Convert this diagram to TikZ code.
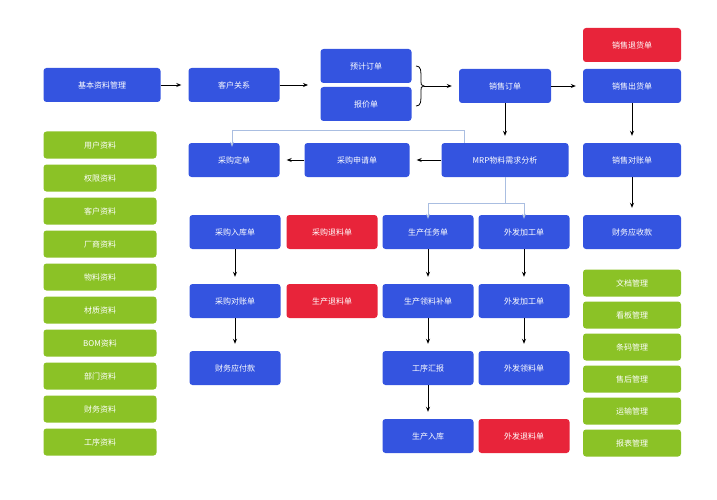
\documentclass[tikz,border=0pt]{standalone}
\usepackage{fontspec}
\setmainfont{Noto Sans CJK SC}
\usetikzlibrary{arrows.meta,positioning,decorations.pathreplacing}
\definecolor{boxblue}{RGB}{52,84,224}
\definecolor{boxred}{RGB}{232,36,58}
\definecolor{boxgreen}{RGB}{139,194,38}
\definecolor{lineblue}{RGB}{170,190,225}
\tikzset{
  box/.style={rectangle, rounded corners=3pt, fill=boxblue, text=white, minimum height=34pt, font=\fontsize{8}{9}\selectfont, inner sep=1pt},
  rbox/.style={box, fill=boxred},
  gbox/.style={box, fill=boxgreen, minimum height=27pt},
  flow/.style={-{Stealth[length=5pt,width=4pt]}, thick, black, shorten >=7pt},
  mrp/.style={-{Stealth[length=5pt,width=4pt]}, lineblue, thick}
}
\begin{document}
\begin{tikzpicture}[x=1pt,y=-1pt]
\useasboundingbox (0,0) rectangle (717,500);

% top row
\node[box, minimum width=117pt] (base) at (102,85) {基本资料管理};
\node[box, minimum width=91pt] (kehu) at (234,85) {客户关系};
\node[box, minimum width=91pt] (yuji) at (366,66) {预计订单};
\node[box, minimum width=91pt] (baojia) at (366,104) {报价单};
\node[box, minimum width=92pt] (xiaoshou) at (505,86) {销售订单};
\node[rbox, minimum width=98pt] (tuihuo) at (632,45) {销售退货单};
\node[box, minimum width=98pt] (chuhuo) at (632,86) {销售出货单};
\node[box, minimum width=98pt] (duizhang) at (632,160) {销售对账单};
\node[box, minimum width=98pt] (yingshou) at (632,232) {财务应收款};

% second row
\node[box, minimum width=127pt] (mrp) at (505,160) {MRP物料需求分析};
\node[box, minimum width=105pt] (shenqing) at (357,160) {采购申请单};
\node[box, minimum width=91pt] (dingdan) at (234,160) {采购定单};

% lower block
\foreach \name/\txt/\x/\y/\s in {
  ruku/采购入库单/235/232/box, tuiliao/采购退料单/332/232/rbox,
  renwu/生产任务单/428/232/box, waifa/外发加工单/524/232/box,
  cgdz/采购对账单/235/301/box, sctl/生产退料单/332/301/rbox,
  lingliao/生产领料补单/428/301/box, waifab/外发加工单/524/301/box,
  yingfu/财务应付款/235/368/box, gongxu/工序汇报/428/368/box,
  wfll/外发领料单/524/368/box,
  scrk/生产入库/428/436/box, wftl/外发退料单/524/436/rbox}
  \node[\s, minimum width=91pt] (\name) at (\x,\y) {\txt};

% side lists
\foreach \txt [count=\i] in {用户资料,权限资料,客户资料,厂商资料,物料资料,材质资料,BOM资料,部门资料,财务资料,工序资料}
  \node[gbox, minimum width=113pt] (l\i) at (100,112+33*\i) {\txt};
\foreach \txt [count=\i] in {文档管理,看板管理,条码管理,售后管理,运输管理,报表管理}
  \node[gbox, minimum width=98pt] (r\i) at (632,251+32*\i) {\txt};

% brace
\draw[thick] (416,66) .. controls (421,66) and (421,70) .. (421,80) -- (421,82)
  .. controls (421,85) .. (424,86) .. controls (421,87) .. (421,90) -- (421,92)
  .. controls (421,102) and (421,106) .. (416,106);
\coordinate (brace) at (424,86);
\coordinate (kend) at (315,85);

\draw[flow] (base) -- (kehu);
\draw[flow] (kehu) -- (kend);
\draw[flow] (brace) -- (xiaoshou);
\draw[flow] (xiaoshou) -- (chuhuo);
\draw[flow] (chuhuo) -- (duizhang);
\draw[flow] (duizhang) -- (yingshou);
\draw[flow] (xiaoshou) -- (mrp);
\draw[flow] (mrp) -- (shenqing);
\draw[flow] (shenqing) -- (dingdan);
\draw[flow] (ruku) -- (cgdz);
\draw[flow] (cgdz) -- (yingfu);
\draw[flow] (renwu) -- (lingliao);
\draw[flow] (lingliao) -- (gongxu);
\draw[flow] (gongxu) -- (scrk);
\draw[flow] (waifa) -- (waifab);
\draw[flow] (waifab) -- (wfll);

% light connectors
\draw[mrp] (mrp.north -| 464,0) |- (232,130) -- ([yshift=-4pt]dingdan.north -| 232,0);
\draw[lineblue, thick] (mrp.south) -- (505,203);
\draw[mrp] (505,203) -| ([yshift=-4pt]renwu.north);
\draw[mrp] (505,203) -| ([yshift=-4pt]waifa.north);
\end{tikzpicture}
\end{document}
